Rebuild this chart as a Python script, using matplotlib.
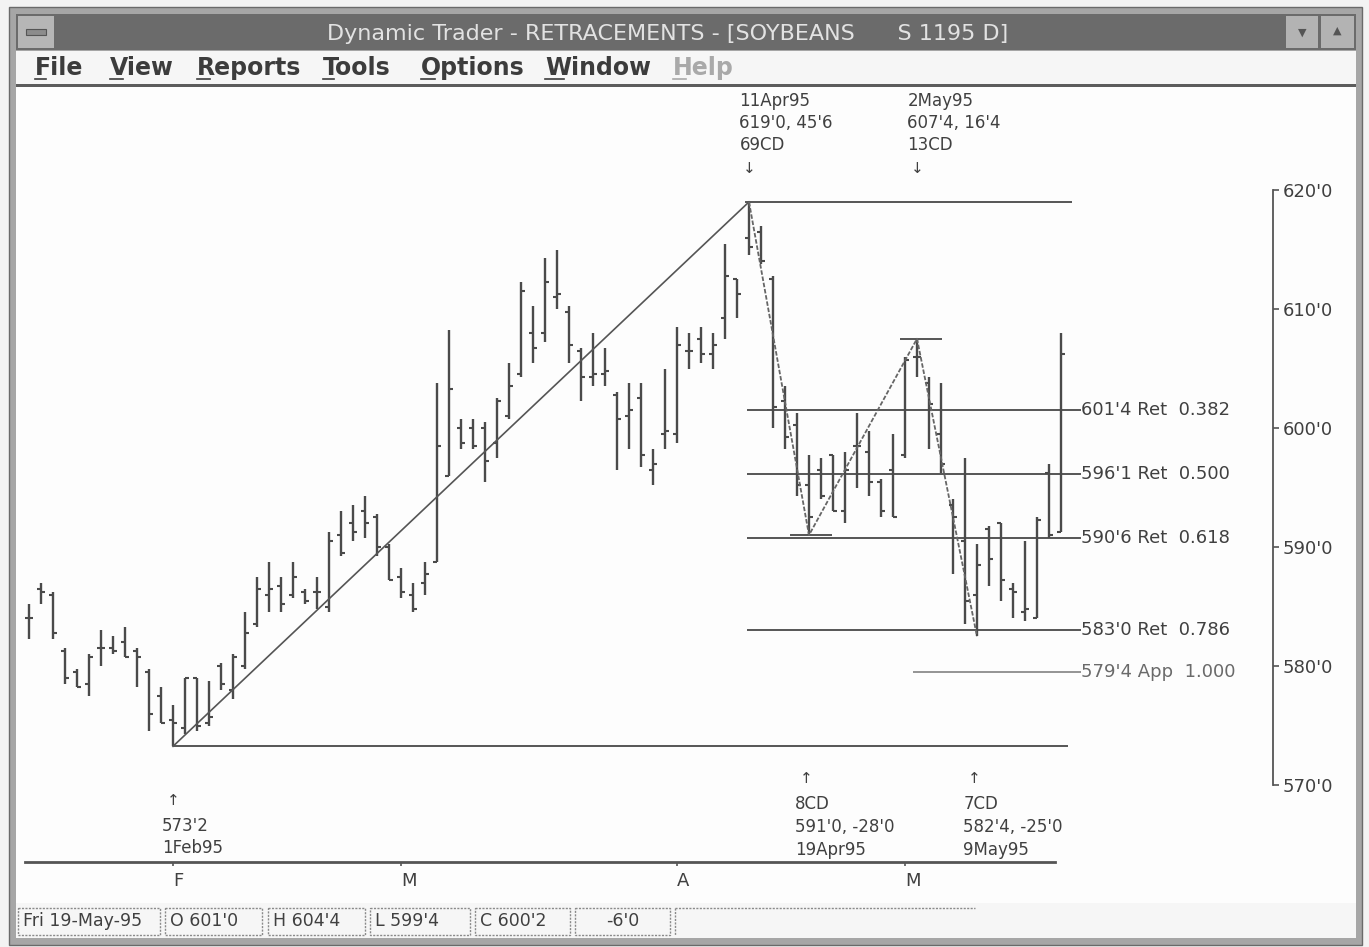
import matplotlib
matplotlib.use('Agg')
import matplotlib.pyplot as plt
from matplotlib.patches import Rectangle
from matplotlib.transforms import blended_transform_factory

# ---------------- data ----------------
highs = [585.25, 587.0, 586.25, 581.5, 579.75, 581.0, 583.0, 582.5, 583.25, 581.5,
         579.75, 578.25, 576.75, 579.0, 579.0, 578.75, 580.25, 581.0, 584.5, 587.5,
         588.75, 587.5, 588.75, 586.5, 587.5, 591.25, 593.0, 593.5, 594.25, 592.75,
         590.25, 588.25, 587.0, 588.75, 603.75, 608.25, 600.75, 600.75, 600.5, 602.5,
         605.5, 612.25, 610.25, 614.25, 615.0, 610.25, 606.75, 608.0, 606.75, 603.0,
         603.75, 603.75, 598.25, 605.0, 608.5, 608.0, 608.5, 608.0, 615.5, 612.5,
         619.0, 617.0, 612.75, 603.5, 601.25, 597.75, 597.5, 597.75, 598.0, 601.25,
         599.75, 595.75, 599.5, 606.0, 607.5, 604.25, 603.75, 594.0, 597.5, 590.25,
         591.75, 592.0, 587.0, 590.5, 592.5, 597.0, 608.0]
lows = [582.25, 585.25, 582.25, 578.5, 578.25, 577.5, 580.0, 581.0, 580.75, 578.25,
        574.5, 575.25, 573.25, 574.25, 574.5, 575.0, 578.0, 577.25, 579.75, 583.25,
        584.5, 584.5, 585.75, 585.25, 584.75, 584.5, 589.25, 590.5, 590.75, 589.25,
        587.25, 585.75, 584.5, 586.0, 588.75, 596.0, 598.25, 598.25, 595.5, 597.5,
        600.75, 604.25, 605.5, 607.25, 610.0, 605.5, 602.25, 603.5, 603.5, 596.5,
        598.25, 596.75, 595.25, 598.25, 598.75, 605.0, 605.5, 605.0, 607.5, 609.25,
        614.5, 613.75, 600.0, 598.25, 594.25, 591.0, 594.0, 593.0, 592.0, 595.0,
        594.25, 592.5, 592.5, 597.5, 604.25, 598.25, 596.25, 587.75, 583.5, 582.5,
        586.75, 585.5, 584.0, 583.75, 584.0, 590.75, 591.25]
opens = [584.0, 586.5, 586.0, 581.25, 579.5, 578.5, 581.5, 581.5, 582.0, 581.25,
         579.5, 577.5, 575.5, 574.75, 579.0, 575.25, 580.0, 578.0, 580.0, 583.5,
         586.0, 586.75, 586.0, 586.25, 586.25, 585.0, 591.0, 592.0, 593.0, 592.5,
         590.0, 587.5, 586.0, 587.0, 588.75, 596.0, 600.0, 600.0, 600.0, 598.75,
         601.0, 604.5, 608.0, 608.0, 611.0, 609.75, 606.5, 604.25, 604.5, 602.75,
         601.0, 602.5, 596.5, 599.5, 599.5, 606.5, 607.5, 606.25, 609.25, 612.5,
         616.0, 616.5, 612.5, 602.25, 600.25, 595.25, 596.5, 597.75, 593.0, 598.5,
         598.0, 595.5, 596.5, 597.75, 606.0, 603.75, 599.5, 593.5, 590.5, 586.0,
         591.5, 592.0, 586.5, 584.5, 584.0, 596.25, 591.25]
closes = [584.0, 586.25, 582.75, 579.0, 578.25, 580.75, 581.5, 581.25, 580.75, 580.75,
          576.0, 575.25, 575.25, 579.0, 575.0, 575.75, 578.5, 580.75, 582.75, 586.5,
          586.5, 585.25, 587.5, 585.5, 586.25, 590.5, 589.5, 591.25, 592.0, 590.0,
          587.25, 586.25, 584.75, 587.75, 598.5, 603.25, 598.75, 598.5, 597.25, 602.25,
          603.5, 611.5, 606.75, 612.25, 611.25, 607.0, 604.25, 604.5, 604.75, 600.75,
          601.5, 597.75, 597.0, 599.75, 607.0, 606.5, 606.25, 607.0, 612.75, 611.25,
          615.25, 614.0, 601.75, 599.25, 595.25, 592.5, 594.25, 593.0, 596.5, 598.5,
          595.5, 593.0, 592.5, 605.75, 606.0, 602.0, 597.0, 592.5, 585.5, 588.5,
          589.0, 587.25, 586.25, 584.75, 592.25, 591.0, 606.25]

month_ticks = [12, 31, 54, 73]
month_labels = ['F', 'M', 'A', 'M']
price_ticks = [570, 580, 590, 600, 610, 620]

# swing pivots (bar index, price)
pivot_idx = [12, 60, 65, 74, 79]
pivot_px = [573.25, 619.0, 591.0, 607.5, 582.5]

ret_levels = [601.5, 596.125, 590.75, 583.0]
ret_labels = ["601'4 Ret  0.382", "596'1 Ret  0.500", "590'6 Ret  0.618", "583'0 Ret  0.786"]
app_level = 579.5
app_label = "579'4 App  1.000"

top_notes = [["11Apr95", "619'0, 45'6", "69CD"], ["2May95", "607'4, 16'4", "13CD"]]
bot_notes = [["573'2", "1Feb95"], ["8CD", "591'0, -28'0", "19Apr95"], ["7CD", "582'4, -25'0", "9May95"]]

status_items = ["Fri 19-May-95", "O 601'0", "H 604'4", "L 599'4", "C 600'2", "-6'0"]
menu_items = ["File", "View", "Reports", "Tools", "Options", "Window", "Help"]
title = "Dynamic Trader - RETRACEMENTS - [SOYBEANS      S 1195 D]"

# ---------------- figure ----------------
W, H = 1369, 947
fig = plt.figure(figsize=(W / 100, H / 100), dpi=100, facecolor='#f3f3f3')

bg = fig.add_axes([0, 0, 1, 1], zorder=0)
bg.set_xlim(0, W)
bg.set_ylim(H, 0)
bg.axis('off')

LC = '#4a4a4a'
TC = '#404040'


def rect(x0, y0, x1, y1, fc, ec='none', lw=0, ls='-', z=1):
    bg.add_patch(Rectangle((x0, y0), x1 - x0, y1 - y0, facecolor=fc, edgecolor=ec,
                           linewidth=lw, linestyle=ls, zorder=z))


# window frame
rect(9, 7, 1362, 945, '#a6a6a6', ec='#6a6a6a', lw=1)
rect(16, 14, 1356, 50, '#6b6b6b')
rect(18, 16, 54, 48, '#b6b6b6')
rect(26, 29, 46, 35, '#8c8c8c', ec='#555555', lw=0.8, z=2)
rect(1286, 16, 1318, 48, '#b3b3b3')
rect(1321, 16, 1354, 48, '#b3b3b3')
bg.text(1302, 33, '\u25BC', ha='center', va='center', fontsize=8, color='#555555', zorder=3)
bg.text(1337.5, 31, '\u25B2', ha='center', va='center', fontsize=8, color='#555555', zorder=3)
bg.text(668, 34, title, ha='center', va='center', fontsize=16, color='#e2e2e2', zorder=3)

# menu bar
rect(16, 51, 1356, 84, '#f6f6f6')
rect(16, 83.5, 1356, 87, '#5c5c5c', z=2)
menu_x = [35, 110, 197, 323, 421, 545, 673]
first_w = [11, 13, 13, 11, 14, 19, 13]
for name, mx, fw in zip(menu_items, menu_x, first_w):
    col = '#a9a9a9' if name == 'Help' else '#3c3c3c'
    bg.text(mx, 68, name, ha='left', va='center', fontsize=17, fontweight='bold',
            color=col, zorder=3)
    bg.plot([mx, mx + fw], [79, 79], color=col, lw=1.2, zorder=3)

# client area and status bar
rect(16, 87, 1356, 903, '#fdfdfd')
rect(16, 903, 1356, 938, '#f6f6f6')
box_x = [(18, 160), (165, 262), (268, 365), (370, 470), (475, 570), (575, 670)]
for (x0, x1), s in zip(box_x, status_items):
    rect(x0, 908, x1, 935, 'none', ec='#8a8a8a', lw=1, ls=(0, (1.5, 1)), z=2)
    if s.startswith('-'):
        bg.text((x0 + x1) / 2, 921, s, ha='center', va='center', fontsize=12.5, color=TC, zorder=3)
    else:
        bg.text(x0 + 5, 921, s, ha='left', va='center', fontsize=12.5, color=TC, zorder=3)
bg.plot([675, 975], [908, 908], color='#8a8a8a', lw=1, ls=(0, (1.5, 1)), zorder=2)
bg.plot([675, 675], [908, 935], color='#8a8a8a', lw=1, ls=(0, (1.5, 1)), zorder=2)

# ---------------- price chart ----------------
ax_l, ax_r, ax_t, ax_b = 20, 1273, 90, 862
ax = fig.add_axes([ax_l / W, (H - ax_b) / H, (ax_r - ax_l) / W, (ax_b - ax_t) / H], zorder=2)
ax.patch.set_alpha(0)
x0_px, step = 29.0, 12.0
y620, ppp = 190.0, 11.9
ax.set_xlim((ax_l - x0_px) / step, (ax_r - x0_px) / step)
ax.set_ylim(620 - (ax_b - y620) / ppp, 620 - (ax_t - y620) / ppp)

for s in ['left', 'top']:
    ax.spines[s].set_visible(False)
ax.spines['right'].set_bounds(570, 620)
ax.spines['right'].set_color('#555555')
ax.spines['right'].set_linewidth(1.3)
ax.spines['bottom'].set_bounds(-0.35, 85.5)
ax.spines['bottom'].set_color('#555555')
ax.spines['bottom'].set_linewidth(2.0)

ax.yaxis.tick_right()
ax.set_yticks(price_ticks)
ax.set_yticklabels([f"{v}'0" for v in price_ticks])
ax.tick_params(axis='y', direction='out', length=4, width=1.2, color='#555555',
               labelsize=13, labelcolor=TC, pad=3)
ax.set_xticks(month_ticks)
ax.set_xticklabels(month_labels)
ax.tick_params(axis='x', direction='out', length=3, width=1.2, color='#555555',
               labelsize=13, labelcolor=TC, pad=4)
for lab in ax.get_xticklabels():
    lab.set_ha('left')

# OHLC bars
n = len(highs)
xs = list(range(n))
tw = 0.36
ax.vlines(xs, lows, highs, color=LC, lw=1.7, zorder=3)
ax.hlines(opens, [x - tw for x in xs], xs, color=LC, lw=1.5, zorder=3)
ax.hlines(closes, xs, [x + tw for x in xs], color=LC, lw=1.5, zorder=3)

# swing lines
ax.plot(pivot_idx[:2], pivot_px[:2], color='#555555', lw=1.2, zorder=4)
ax.plot(pivot_idx[1:], pivot_px[1:], color='#666666', lw=1.3, ls=(0, (2.5, 1)), zorder=4)

# horizontal reference lines
ax.hlines(pivot_px[1], 59.7, 86.9, color='#555555', lw=1.4)
ax.hlines(pivot_px[0], 12, 86.6, color='#555555', lw=1.4)
ax.hlines(pivot_px[2], 63.4, 66.9, color='#555555', lw=1.4)
ax.hlines(pivot_px[3], 72.6, 76.1, color='#555555', lw=1.4)
lab_x = (1081 - x0_px) / step
for lv, lb in zip(ret_levels, ret_labels):
    ax.hlines(lv, 59.8, lab_x, color='#555555', lw=1.4)
    ax.text(lab_x, lv, lb, ha='left', va='center', fontsize=13, color=TC)
ax.hlines(app_level, 73.7, lab_x, color='#777777', lw=1.1)
ax.text(lab_x, app_level, app_label, ha='left', va='center', fontsize=13, color='#6a6a6a')

# annotations: x in bar index, y in screen pixels
tr = blended_transform_factory(ax.transData, bg.transData)
for k, piv in enumerate([1, 3]):
    xi = pivot_idx[piv]
    for j, line in enumerate(top_notes[k]):
        ax.text(xi - 0.8, 101 + 22 * j, line, transform=tr, ha='left', va='center',
                fontsize=12, color=TC)
    ax.text(xi, 168, '\u2193', transform=tr, ha='center', va='center', fontsize=11, color=TC)

xi = pivot_idx[0]
ax.text(xi, 800, '\u2191', transform=tr, ha='center', va='center', fontsize=11, color=TC)
for j, line in enumerate(bot_notes[0]):
    ax.text(xi - 0.9, 826 + 22 * j, line, transform=tr, ha='left', va='center',
            fontsize=12, color=TC)
for k, piv in enumerate([2, 4]):
    xi = pivot_idx[piv]
    ax.text(xi - 0.2, 778, '\u2191', transform=tr, ha='center', va='center', fontsize=11, color=TC)
    for j, line in enumerate(bot_notes[k + 1]):
        ax.text(xi - 1.15, 804 + 23 * j, line, transform=tr, ha='left', va='center',
                fontsize=12, color=TC)

fig.savefig('out.png', dpi=100, facecolor=fig.get_facecolor())
